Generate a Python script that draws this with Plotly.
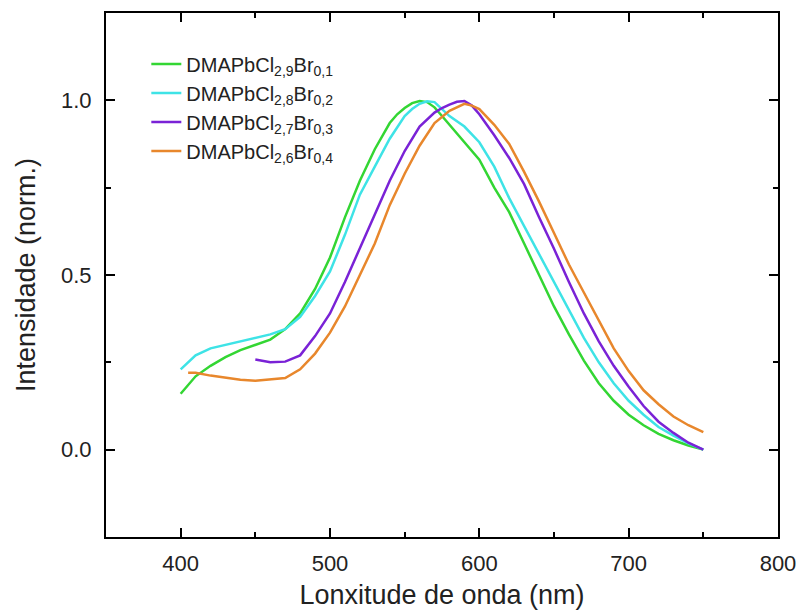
import plotly.graph_objects as go

# Wavelengths (nm) and normalised intensities
wl_01 = [400, 410, 420, 430, 440, 450, 460, 470, 480, 490, 500, 510, 520, 530, 540, 545, 550, 555,
         560, 565, 570, 575, 580, 590, 600, 610, 620, 630, 640, 650, 660, 670, 680, 690, 700, 710,
         720, 730, 740, 750]
int_01 = [0.16, 0.21, 0.24, 0.265, 0.285, 0.30, 0.315, 0.345, 0.39, 0.46, 0.55, 0.665, 0.77, 0.86,
          0.935, 0.96, 0.978, 0.992, 0.998, 0.995, 0.98, 0.955, 0.93, 0.88, 0.83, 0.75, 0.68, 0.59,
          0.50, 0.41, 0.33, 0.255, 0.19, 0.14, 0.10, 0.07, 0.045, 0.027, 0.012, 0.0]

wl_02 = [400, 410, 420, 430, 440, 450, 460, 470, 480, 490, 500, 510, 520, 530, 540, 550, 555, 560,
         565, 570, 575, 580, 590, 600, 610, 620, 630, 640, 650, 660, 670, 680, 690, 700, 710, 720,
         730, 740, 750]
int_02 = [0.23, 0.27, 0.29, 0.30, 0.31, 0.32, 0.33, 0.345, 0.38, 0.44, 0.51, 0.615, 0.73, 0.81,
          0.89, 0.955, 0.975, 0.99, 0.997, 0.995, 0.975, 0.955, 0.925, 0.88, 0.81, 0.72, 0.64,
          0.56, 0.48, 0.40, 0.32, 0.25, 0.19, 0.14, 0.10, 0.065, 0.04, 0.018, 0.0]

wl_03 = [450, 460, 470, 480, 490, 500, 510, 520, 530, 540, 550, 560, 570, 575, 580, 585, 590, 595,
         600, 610, 620, 630, 640, 650, 660, 670, 680, 690, 700, 710, 720, 730, 740, 750]
int_03 = [0.258, 0.25, 0.252, 0.27, 0.325, 0.39, 0.48, 0.575, 0.67, 0.77, 0.855, 0.925, 0.965,
          0.978, 0.988, 0.996, 0.998, 0.985, 0.96, 0.90, 0.835, 0.76, 0.665, 0.575, 0.48, 0.39,
          0.31, 0.24, 0.18, 0.125, 0.08, 0.048, 0.02, 0.0]

wl_04 = [405, 410, 420, 430, 440, 450, 460, 470, 480, 490, 500, 510, 520, 530, 540, 550, 560, 570,
         580, 585, 590, 595, 600, 610, 620, 630, 640, 650, 660, 670, 680, 690, 700, 710, 720, 730,
         740, 750]
int_04 = [0.22, 0.22, 0.212, 0.205, 0.20, 0.197, 0.20, 0.205, 0.23, 0.275, 0.335, 0.41, 0.50, 0.59,
          0.70, 0.79, 0.87, 0.935, 0.97, 0.98, 0.99, 0.985, 0.975, 0.93, 0.875, 0.795, 0.71, 0.62,
          0.53, 0.45, 0.37, 0.29, 0.225, 0.17, 0.13, 0.095, 0.07, 0.05]

names = ["DMAPbCl<sub>2,9</sub>Br<sub>0,1</sub>",
         "DMAPbCl<sub>2,8</sub>Br<sub>0,2</sub>",
         "DMAPbCl<sub>2,7</sub>Br<sub>0,3</sub>",
         "DMAPbCl<sub>2,6</sub>Br<sub>0,4</sub>"]
colors = ["#33d633", "#3ee3e6", "#7a22d6", "#e8872c"]
series = [(wl_01, int_01), (wl_02, int_02), (wl_03, int_03), (wl_04, int_04)]

x_ticks = [400, 500, 600, 700, 800]
y_ticks = [0.0, 0.5, 1.0]

FONT = "Liberation Sans, Arial, sans-serif"

fig = go.Figure()
for (x, y), n, c in zip(series, names, colors):
    fig.add_trace(go.Scatter(x=x, y=y, mode="lines", name=n,
                             line=dict(color=c, width=2.5)))

axis_common = dict(showline=True, linecolor="black", linewidth=2, mirror="ticks",
                   ticks="inside", ticklen=9, tickwidth=2, tickcolor="black",
                   showgrid=False, zeroline=False, automargin=False,
                   tickfont=dict(family=FONT, size=22, color="#222"))

fig.update_layout(
    width=800, height=613,
    margin=dict(l=106, r=22, t=13, b=76),
    paper_bgcolor="white", plot_bgcolor="white",
    font=dict(family=FONT, color="#222"),
    xaxis=dict(range=[350, 800], tickvals=x_ticks, ticktext=[str(v) for v in x_ticks],
               title=dict(text="Lonxitude de onda (nm)", font=dict(size=27), standoff=10),
               ticklabelstandoff=6,
               minor=dict(ticks="inside", ticklen=5, tickwidth=2, tickcolor="black", dtick=50,
                          tick0=350),
               **axis_common),
    yaxis=dict(range=[-0.25, 1.25], tickvals=y_ticks, ticktext=["0.0", "0.5", "1.0"],
               title=dict(text="Intensidade (norm.)", font=dict(size=27), standoff=18),
               ticklabelstandoff=8,
               minor=dict(ticks="inside", ticklen=5, tickwidth=2, tickcolor="black", dtick=0.25,
                          tick0=0),
               **axis_common),
    legend=dict(x=0.06, y=0.94, xanchor="left", yanchor="top",
                bgcolor="rgba(0,0,0,0)", font=dict(size=20), tracegroupgap=0,
                itemwidth=30),
)

fig.write_html("out.html")
